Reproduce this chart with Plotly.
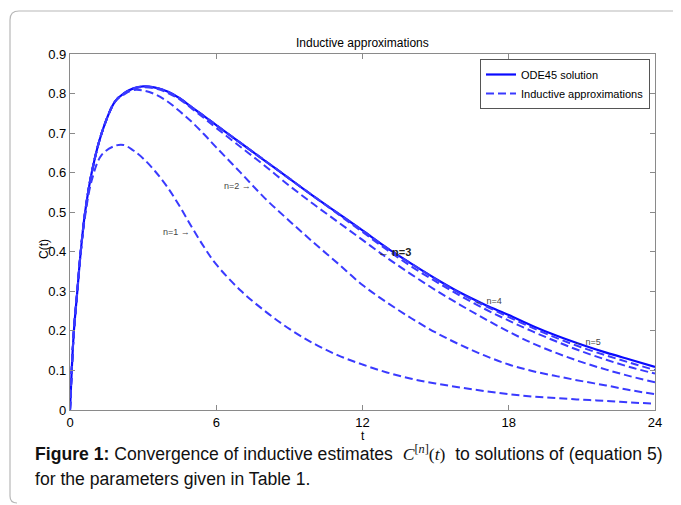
import plotly.graph_objects as go

# ---- data ----
t = [0, 0.07, 0.16, 0.3, 0.44, 0.62, 0.89, 1.3, 1.85, 2.2, 2.6, 3, 3.5, 4, 4.5, 5, 5.5,
     6, 7, 8, 9, 10, 11, 12, 13, 14, 15, 16, 17, 18, 19, 20, 21, 22, 23, 24]

ode45 = [0, 0.1, 0.2, 0.3, 0.4, 0.5, 0.6, 0.7, 0.78, 0.8, 0.813, 0.818, 0.815, 0.805, 0.788, 0.765, 0.743,
         0.72, 0.675, 0.63, 0.585, 0.54, 0.497, 0.454, 0.41, 0.37, 0.332, 0.297, 0.267, 0.24,
         0.212, 0.187, 0.165, 0.145, 0.127, 0.109]

n1 = [0, 0.1, 0.2, 0.3, 0.4, 0.49, 0.58, 0.645, 0.668, 0.67, 0.656, 0.636, 0.603, 0.563, 0.515, 0.462, 0.412,
      0.368, 0.302, 0.25, 0.205, 0.168, 0.138, 0.115, 0.095, 0.079, 0.067, 0.057, 0.048, 0.04,
      0.034, 0.03, 0.026, 0.023, 0.019, 0.016]

n2 = [0, 0.1, 0.2, 0.3, 0.4, 0.5, 0.6, 0.7, 0.78, 0.797, 0.809, 0.808, 0.798, 0.78, 0.755, 0.728, 0.697,
      0.664, 0.6, 0.535, 0.478, 0.423, 0.37, 0.316, 0.272, 0.232, 0.196, 0.165, 0.138, 0.115,
      0.098, 0.085, 0.073, 0.062, 0.05, 0.04]

n3 = [0, 0.1, 0.2, 0.3, 0.4, 0.5, 0.6, 0.7, 0.78, 0.8, 0.812, 0.816, 0.813, 0.802, 0.785, 0.762, 0.738,
      0.713, 0.665, 0.617, 0.567, 0.52, 0.475, 0.43, 0.385, 0.343, 0.303, 0.266, 0.231, 0.198,
      0.168, 0.143, 0.121, 0.102, 0.085, 0.07]

n4 = [0, 0.1, 0.2, 0.3, 0.4, 0.5, 0.6, 0.7, 0.78, 0.8, 0.813, 0.818, 0.815, 0.805, 0.788, 0.765, 0.743,
      0.72, 0.675, 0.63, 0.585, 0.54, 0.495, 0.45, 0.405, 0.363, 0.325, 0.289, 0.256, 0.226,
      0.198, 0.172, 0.148, 0.127, 0.108, 0.092]

n5 = [0, 0.1, 0.2, 0.3, 0.4, 0.5, 0.6, 0.7, 0.78, 0.8, 0.813, 0.818, 0.815, 0.805, 0.788, 0.765, 0.743,
      0.72, 0.675, 0.63, 0.585, 0.54, 0.497, 0.454, 0.41, 0.37, 0.331, 0.295, 0.264, 0.235,
      0.207, 0.181, 0.158, 0.138, 0.119, 0.101]

x_ticks = [0, 6, 12, 18, 24]
y_ticks = [0, 0.1, 0.2, 0.3, 0.4, 0.5, 0.6, 0.7, 0.8, 0.9]
y_tick_labels = ["0", "0.1", "0.2", "0.3", "0.4", "0.5", "0.6", "0.7", "0.8", "0.9"]

# labels: (text, t, value, anchor, bold)
labels = [("n=1 →", 5.0, 0.449, "right", False),
          ("n=2 →", 7.5, 0.566, "right", False),
          ("← <b>n=3</b>", 12.56, 0.40, "left", True),
          ("← n=4", 16.53, 0.276, "left", False),
          ("← n=5", 20.6, 0.171, "left", False)]

FONT = "Liberation Sans, Arial, sans-serif"
SOLID = "#0a0aff"
DASH = "#3a3aff"

fig = go.Figure()
fig.add_trace(go.Scatter(x=t, y=ode45, mode="lines", name="ODE45 solution",
                         line=dict(color=SOLID, width=2.2, shape="spline")))
for i, series in enumerate([n1, n2, n3, n4, n5]):
    fig.add_trace(go.Scatter(x=t, y=series, mode="lines", name="Inductive approximations",
                             showlegend=(i == 0),
                             line=dict(color=DASH, width=2, dash="8px,4px", shape="spline")))

for text, tx, ty, anchor, bold in labels:
    fig.add_annotation(x=tx, y=ty, xref="x", yref="y", text=text, showarrow=False,
                       xanchor=anchor, yanchor="middle",
                       font=dict(family=FONT, size=11 if bold else 9,
                                 color="#222" if bold else "#444"))

# page has an 8px body margin: figure starts at (8, 8) of the window
OFF = 8
W, H = 681 - OFF, 505 - OFF
X0, X1, Y0, Y1 = 70, 655, 54, 410          # plot area in window pixels
L, R, T, B = X0 - OFF, 681 - X1, Y0 - OFF, 505 - Y1


def px(xp):
    return (xp - X0) / (X1 - X0)


def py(yp):
    return (Y1 - yp) / (Y1 - Y0)


fig.add_annotation(x=0.5, y=py(43), xref="paper", yref="paper", text="Inductive approximations",
                   showarrow=False, xanchor="center", yanchor="middle",
                   font=dict(family=FONT, size=12, color="#000"))
fig.add_annotation(x=0.5, y=py(436), xref="paper", yref="paper", text="t",
                   showarrow=False, xanchor="center", yanchor="middle",
                   font=dict(family=FONT, size=12, color="#000"))
fig.add_annotation(x=px(44), y=py(249), xref="paper", yref="paper", text="C(t)", textangle=-90,
                   showarrow=False, xanchor="center", yanchor="middle",
                   font=dict(family=FONT, size=12, color="#000"))

# caption
cap1 = ("<b>Figure 1:</b> Convergence of inductive estimates  "
        "<span style='font-family:Liberation Serif, serif'><i>C</i><sup>[<i>n</i>]</sup>(<i>t</i>)</span>"
        "  to solutions of (equation 5)")
cap2 = "for the parameters given in Table 1."
fig.add_annotation(x=px(33), y=py(453), xref="paper", yref="paper", text=cap1, showarrow=False,
                   xanchor="left", yanchor="middle", font=dict(family=FONT, size=17.6, color="#111"))
fig.add_annotation(x=px(33), y=py(479), xref="paper", yref="paper", text=cap2, showarrow=False,
                   xanchor="left", yanchor="middle", font=dict(family=FONT, size=17.6, color="#111"))

# outer rounded frame (left + top)
r = 9
path = (f"M {px(690)},{py(11)} L {px(10 + r)},{py(11)} "
        f"Q {px(10)},{py(11)} {px(10)},{py(11 + r)} "
        f"L {px(10)},{py(496)} Q {px(10)},{py(503)} {px(17)},{py(503)}")
fig.add_shape(type="path", path=path, xref="paper", yref="paper",
              line=dict(color="#b8b8b8", width=1.2), layer="below")

axis_common = dict(showgrid=False, zeroline=False, showline=True, mirror="ticks",
                   linecolor="#8a8a8a", linewidth=1.2, ticks="inside", ticklen=5,
                   tickcolor="#8a8a8a", tickfont=dict(family=FONT, size=13, color="#000"))

fig.update_xaxes(range=[0, 24], tickvals=x_ticks, ticktext=[str(v) for v in x_ticks], **axis_common)
fig.update_yaxes(range=[0, 0.9], tickvals=y_ticks, ticktext=y_tick_labels, **axis_common)

fig.update_layout(
    width=W, height=H,
    margin=dict(l=L, r=R, t=T, b=B, pad=0),
    paper_bgcolor="white", plot_bgcolor="white",
    showlegend=True,
    legend=dict(x=px(650), y=py(59), xanchor="right", yanchor="top",
                bordercolor="#555", borderwidth=1, bgcolor="white",
                font=dict(family=FONT, size=11, color="#000"),
                tracegroupgap=0, itemwidth=30),
)

fig.write_html("out.html")
